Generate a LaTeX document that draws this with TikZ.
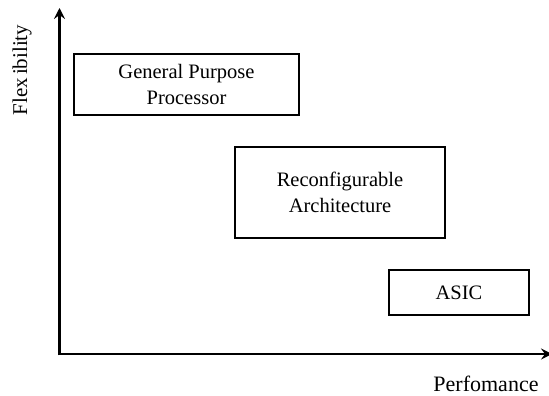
\documentclass[tikz,border=0pt]{standalone}
\usepackage{fontspec}
\setmainfont{Liberation Serif}
\usetikzlibrary{arrows.meta}
\begin{document}
\begin{tikzpicture}[x=1pt,y=-1pt,
  archbox/.style={draw, line width=2.7pt, align=center, inner sep=0pt,
                  font=\fontsize{20.5}{25.5}\selectfont},
  axis/.style={line width=2.7pt, -{Stealth[length=11pt,width=11pt,inset=4pt]}},
  axislabel/.style={font=\fontsize{21}{24}\selectfont, inner sep=0pt}]
  \useasboundingbox (0,0) rectangle (549,396);

  % axes
  \coordinate (origin) at (59.5,354);
  \coordinate (ytip) at (59.5,8);
  \coordinate (xtip) at (552,354);
  \draw[axis] ([yshift=-1.35pt]origin) -- (ytip);
  \draw[axis] ([xshift=-1.35pt]origin) -- (xtip);

  \node[axislabel, rotate=90] (ylab) at (22,70) {Flex\hspace{3pt}ibility};
  \node[axislabel, font=\fontsize{22}{24}\selectfont] (xlab) at (486,383.5) {Perfomance};

  % architecture classes
  \node[archbox, minimum width=225pt, minimum height=61pt] (gpp) at (186.5,84.5)
    {General Purpose\\Processor};
  \node[archbox, minimum width=210pt, minimum height=91pt] (rca) at (340,192.5)
    {Reconfigurable\\Architecture};
  \node[archbox, minimum width=140pt, minimum height=45pt] (asic) at (459,292.5)
    {ASIC};
\end{tikzpicture}
\end{document}
